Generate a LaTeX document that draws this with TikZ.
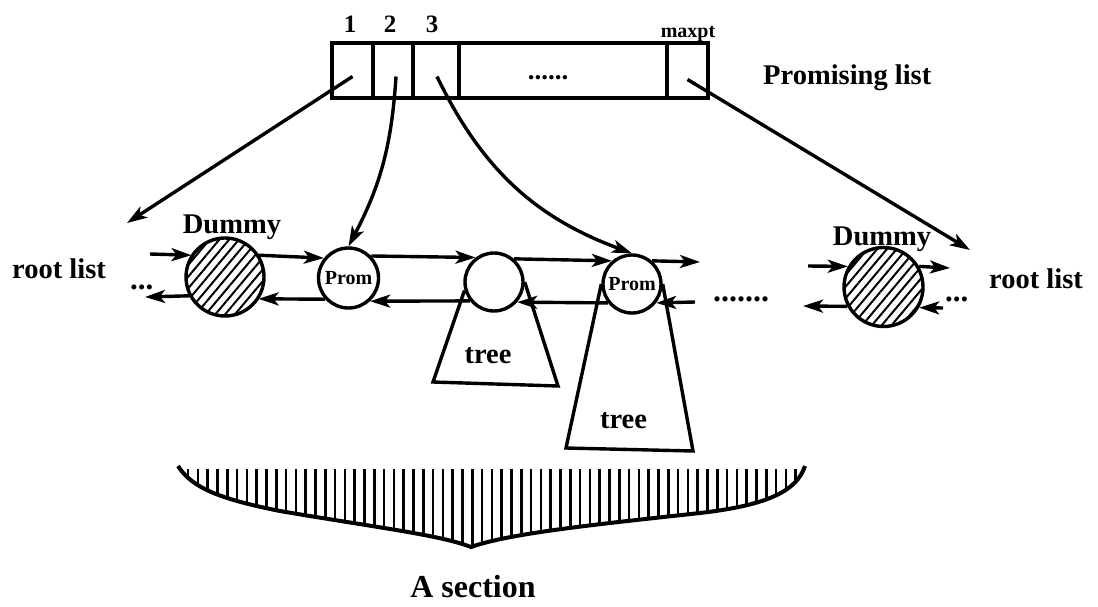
\documentclass[tikz,border=0pt]{standalone}
\usepackage{fontspec}
\setmainfont{Liberation Serif}
\usetikzlibrary{arrows.meta,patterns.meta}
\tikzset{
  lw/.style={line width=3.4pt, line join=miter},
  arr/.style={line width=3.4pt, -{Stealth[length=20pt,width=13pt,inset=5pt]}},
  cell/.style={draw, line width=3.4pt, minimum height=55pt, inner sep=0pt},
  ring/.style={circle, draw, line width=3.4pt, inner sep=0pt, fill=white},
  dummy/.style={circle, draw, line width=3.4pt, inner sep=0pt, minimum size=78pt,
    pattern={Lines[angle=50,distance=7.5pt,line width=2pt]}},
  lab/.style={font=\fontsize{28.5}{30}\selectfont\bfseries, inner sep=0pt},
  num/.style={font=\fontsize{25}{26}\selectfont\bfseries, inner sep=0pt, anchor=base},
  small/.style={font=\fontsize{20}{21}\selectfont\bfseries, inner sep=0pt},
  dots/.style={font=\fontsize{31}{32}\selectfont\bfseries, inner sep=0pt},
  hatch/.style={line width=2.6pt},
}
\begin{document}
\begin{tikzpicture}[x=1pt,y=-1pt]
\useasboundingbox (0,0) rectangle (1098,606);

% promising list array
\node[cell, minimum width=41pt] (c1) at (352.5,70.5) {};
\node[cell, minimum width=40pt] (c2) at (393,70.5) {};
\node[cell, minimum width=46pt] (c3) at (436,70.5) {};
\node[cell, minimum width=208pt] (cd) at (563,70.5) {};
\node[cell, minimum width=41pt] (cm) at (687.5,70.5) {};
\node[dots, font=\fontsize{27}{28}\selectfont\bfseries, anchor=base] (cdots) at (548,79) {......};
\node[num] (n1) at (350,32) {1};
\node[num] (n2) at (390,32) {2};
\node[num] (n3lab) at (432,32) {3};
\node[small, anchor=base] (mx) at (688,37) {maxpt};
\node[lab, anchor=base west] (prl) at (763,84) {Promising list};

% root list nodes
\node[dummy] (d1) at (225,277) {};
\node[ring, minimum size=60pt, small] (pr1) at (348.5,278) {Prom};
\node[ring, minimum size=58pt] (n3) at (494,282) {};
\node[ring, minimum size=58pt, small] (pr2) at (632,284) {Prom};
\node[dummy, minimum size=79pt] (d2) at (883.5,287) {};

\node[lab, anchor=base] (dl1) at (232,233) {Dummy};
\node[lab, anchor=base] (dl2) at (882,245) {Dummy};
\node[lab, anchor=base west] (rl1) at (12,278) {root list};
\node[lab, anchor=base west] (rl2) at (989,288) {root list};
\node[dots, anchor=base west] (dt1) at (130,289) {...};
\node[dots, anchor=base west] (dt2) at (945,301) {...};
\node[dots, font=\fontsize{32}{33}\selectfont\bfseries, anchor=base west] (dt3) at (713,301) {.......};

% pointers from the array
\coordinate (rl1tip) at (127,223);
\coordinate (mtip) at (970,250);
\draw[arr] ([yshift=-6pt]c1.center) -- (rl1tip);
\draw[arr] ([xshift=3pt,yshift=-6pt]c2.center) to[bend left=12] (pr1.north);
\draw[arr] ([xshift=1pt,yshift=-6pt]c3.center) to[bend right=22] (pr2.north);
\draw[arr] ([yshift=-9pt]cm.center) -- (mtip);

% forward links
\coordinate (lin) at (150,254);
\coordinate (rout) at (700,262);
\coordinate (d2in) at (808,266);
\coordinate (d2out) at (950,268);
\draw[arr] (lin) -- (d1.147);
\draw[arr] (d1.33) -- (pr1.141);
\draw[arr] (pr1.44) -- (n3.127);
\draw[arr] (n3.49) -- (pr2.131);
\draw[arr] (pr2.49) -- (rout);
\draw[arr] (d2in) -- (d2.150);
\draw[arr] (d2.30) -- (d2out);

% backward links
\coordinate (lout) at (145,297);
\coordinate (rin) at (695,302);
\coordinate (d2lout) at (803,306);
\coordinate (d2rin) at (943,308);
\draw[arr] (d1.208) -- (lout);
\draw[arr] (pr1.222) -- (d1.327);
\draw[arr] (n3.218) -- (pr1.313);
\draw[arr] (pr2.218) -- (n3.319);
\draw[arr] (rin) -- (pr2.322);
\draw[arr] (d2.208) -- (d2lout);
\draw[arr] (d2rin) -- (d2.330);

% trees
\coordinate (t1bl) at (433,382);
\coordinate (t1br) at (558,386);
\coordinate (t2bl) at (566,448);
\coordinate (t2br) at (693,451);
\draw[lw] (n3.196) -- (t1bl) -- (t1br) -- (n3.east);
\draw[lw] (pr2.west) -- (t2bl) -- (t2br) -- (pr2.east);
\node[lab, anchor=base] (tr1) at (488,363) {tree};
\node[lab, anchor=base] (tr2) at (623.5,428) {tree};

% section brace
\def\bracepath{(178,466) .. controls (192,488) and (220,499) .. (280,511)
  .. controls (380,528) and (440,535) .. (471,547)
  .. controls (510,533) and (600,524) .. (700,513)
  .. controls (770,505) and (797,490) .. (805,466)}
\begin{scope}
  \clip \bracepath -- (805,469) -- (178,469) -- cycle;
  \foreach \x in {188,197.8,...,800} \draw[hatch] (\x,460) -- (\x,560);
\end{scope}
\draw[line width=4pt, line join=miter] \bracepath;
\node[lab, font=\fontsize{32}{34}\selectfont\bfseries, anchor=base] (sec) at (473,597) {A section};
\end{tikzpicture}
\end{document}
